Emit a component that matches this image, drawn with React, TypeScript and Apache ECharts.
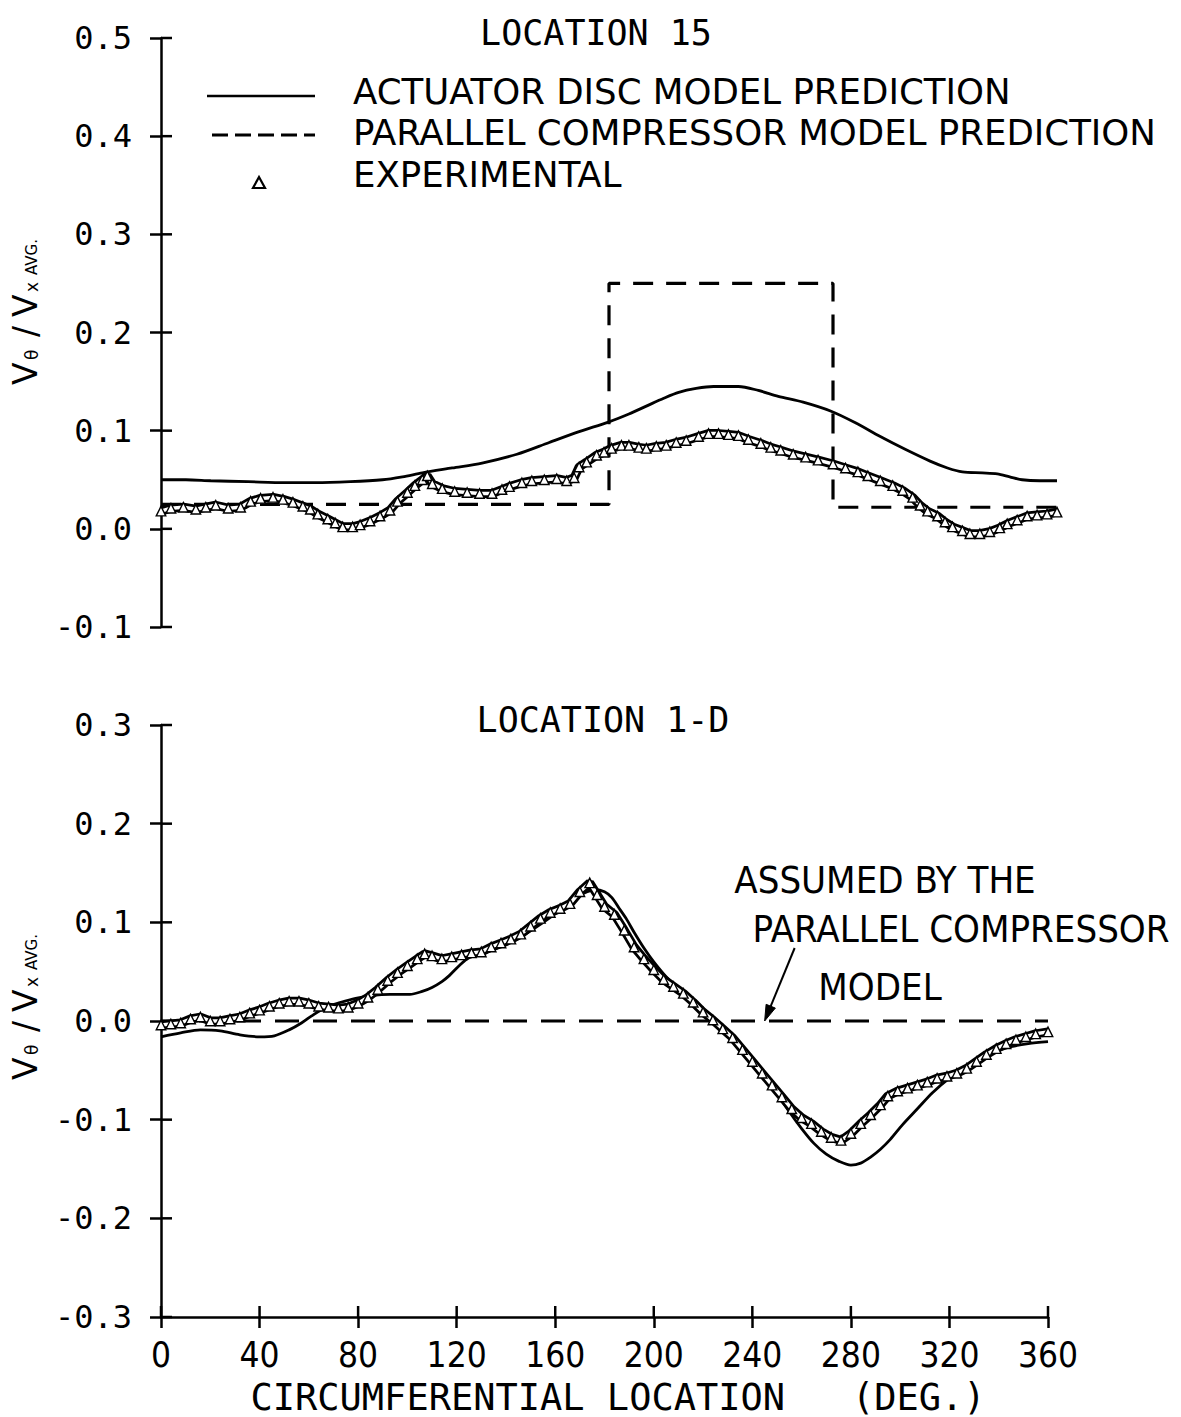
import React, { useEffect, useRef } from "react";
import * as echarts from "echarts";

// ---------- data: Vθ / Vx avg versus circumferential location (deg) ----------

// LOCATION 15 — actuator disc model prediction
const loc15Disc: [number, number][] = [
  [0, 0.050], [10, 0.050], [20, 0.049], [35, 0.048], [50, 0.047], [62, 0.047],
  [76, 0.048], [89, 0.050], [97, 0.053], [105, 0.057], [117, 0.062], [129, 0.067],
  [143, 0.076], [156, 0.088], [168, 0.099], [180, 0.109], [188, 0.117], [195, 0.125],
  [202, 0.133], [208, 0.139], [215, 0.143], [222, 0.145], [232, 0.145], [240, 0.141],
  [248, 0.135], [258, 0.129], [269, 0.120], [279, 0.108], [289, 0.094], [299, 0.081],
  [309, 0.069], [316, 0.062], [322, 0.058], [330, 0.057], [336, 0.056], [341, 0.053],
  [346, 0.050], [353, 0.049], [360, 0.049],
];

// LOCATION 15 — parallel compressor model prediction (square wave)
const loc15Parallel: [number, number][] = [
  [0, 0.025], [180, 0.025], [180, 0.25], [270, 0.25], [270, 0.022], [360, 0.022],
];

// LOCATION 15 — experimental
const loc15Exp: [number, number][] = [
  [0, 0.018], [4, 0.021], [9, 0.022], [14, 0.020], [18, 0.022], [22, 0.024], [27, 0.021],
  [32, 0.022], [36, 0.028], [40, 0.031], [45, 0.032], [49, 0.030], [53, 0.027], [57, 0.023],
  [60, 0.020], [63, 0.015], [67, 0.010], [70, 0.006], [73, 0.002], [77, 0.002], [80, 0.004],
  [84, 0.008], [88, 0.013], [92, 0.019], [95, 0.028], [99, 0.037], [102, 0.044], [105, 0.050],
  [107, 0.054], [109, 0.046], [113, 0.041], [118, 0.038], [123, 0.037], [128, 0.036],
  [133, 0.036], [137, 0.040], [140, 0.043], [145, 0.047], [149, 0.049], [154, 0.050],
  [159, 0.051], [163, 0.049], [166, 0.052], [168, 0.063], [171, 0.068], [175, 0.075],
  [178, 0.078], [181, 0.082], [185, 0.085], [188, 0.085], [192, 0.083], [195, 0.082],
  [199, 0.084], [203, 0.085], [207, 0.088], [211, 0.090], [216, 0.094], [220, 0.097],
  [224, 0.097], [228, 0.096], [232, 0.095], [236, 0.091], [241, 0.087], [245, 0.083],
  [249, 0.080], [254, 0.076], [259, 0.073], [264, 0.070], [270, 0.066], [275, 0.062],
  [280, 0.058], [284, 0.054], [289, 0.049], [294, 0.044], [298, 0.039], [302, 0.032],
  [305, 0.024], [308, 0.018], [312, 0.013], [315, 0.007], [318, 0.002], [322, -0.002],
  [325, -0.005], [329, -0.005], [333, -0.003], [337, 0.001], [340, 0.005], [344, 0.009],
  [348, 0.013], [352, 0.014], [356, 0.015], [360, 0.017],
];

// LOCATION 1-D — actuator disc model prediction
const loc1dDisc: [number, number][] = [
  [0, -0.016], [8, -0.012], [16, -0.009], [24, -0.010], [32, -0.014], [40, -0.016],
  [46, -0.015], [52, -0.009], [57, -0.002], [61, 0.005], [67, 0.014], [73, 0.019],
  [79, 0.023], [86, 0.026], [93, 0.027], [101, 0.027], [106, 0.030], [110, 0.034],
  [114, 0.040], [117, 0.046], [121, 0.056], [125, 0.064], [131, 0.069], [138, 0.075],
  [144, 0.082], [151, 0.093], [158, 0.105], [164, 0.117], [169, 0.126], [173, 0.131],
  [176, 0.133], [180, 0.131], [183, 0.125], [186, 0.114], [189, 0.103], [192, 0.090],
  [196, 0.074], [200, 0.060], [205, 0.045], [210, 0.033], [216, 0.022], [222, 0.008],
  [228, -0.006], [234, -0.021], [239, -0.036], [245, -0.055], [250, -0.073], [255, -0.092],
  [260, -0.109], [265, -0.124], [270, -0.135], [275, -0.142], [280, -0.146], [284, -0.144],
  [288, -0.138], [292, -0.130], [296, -0.120], [301, -0.105], [307, -0.089], [313, -0.073],
  [320, -0.058], [327, -0.046], [334, -0.036], [340, -0.030], [345, -0.026], [352, -0.023],
  [360, -0.021],
];

// LOCATION 1-D — level assumed by the parallel compressor model
const loc1dParallel: [number, number][] = [[0, 0.0], [360, 0.0]];

// LOCATION 1-D — experimental
const loc1dExp: [number, number][] = [
  [0, -0.004], [4, -0.003], [8, -0.002], [12, 0.002], [16, 0.004], [20, 0.000], [24, 0.000],
  [28, 0.002], [32, 0.004], [36, 0.008], [40, 0.011], [44, 0.015], [48, 0.018], [52, 0.020],
  [56, 0.020], [60, 0.018], [64, 0.015], [68, 0.014], [72, 0.013], [76, 0.014], [80, 0.018],
  [84, 0.024], [88, 0.032], [92, 0.041], [96, 0.049], [100, 0.056], [104, 0.063], [107, 0.068],
  [110, 0.066], [114, 0.063], [118, 0.065], [122, 0.067], [126, 0.069], [130, 0.070],
  [134, 0.075], [138, 0.079], [142, 0.083], [146, 0.088], [150, 0.096], [154, 0.104],
  [158, 0.110], [162, 0.114], [166, 0.119], [170, 0.131], [174, 0.140], [177, 0.128],
  [180, 0.116], [184, 0.108], [188, 0.092], [192, 0.075], [196, 0.063], [200, 0.052],
  [204, 0.042], [208, 0.035], [212, 0.028], [216, 0.019], [220, 0.009], [224, 0.001],
  [228, -0.008], [232, -0.017], [236, -0.029], [240, -0.041], [244, -0.053], [248, -0.065],
  [252, -0.077], [256, -0.089], [260, -0.098], [264, -0.104], [268, -0.112], [272, -0.118],
  [276, -0.121], [280, -0.114], [284, -0.104], [288, -0.095], [292, -0.085], [295, -0.076],
  [299, -0.071], [303, -0.068], [307, -0.065], [311, -0.062], [315, -0.058], [319, -0.056],
  [323, -0.053], [327, -0.048], [331, -0.041], [335, -0.034], [339, -0.028], [343, -0.023],
  [347, -0.019], [351, -0.016], [355, -0.013], [360, -0.011],
];

// axes and their tick values
const xRange = [0, 360];
const xStep = 40;
const yStep = 0.1;
const loc15YRange = [-0.1, 0.5];
const loc1dYRange = [-0.3, 0.3];
const xTicks = [0, 40, 80, 120, 160, 200, 240, 280, 320, 360];
const loc15YTicks = [-0.1, 0.0, 0.1, 0.2, 0.3, 0.4, 0.5];
const loc1dYTicks = [-0.3, -0.2, -0.1, 0.0, 0.1, 0.2, 0.3];

// texts
const panelTitles = ["LOCATION 15", "LOCATION 1-D"];
const legendLabels = [
  "ACTUATOR DISC MODEL PREDICTION",
  "PARALLEL COMPRESSOR MODEL PREDICTION",
  "EXPERIMENTAL",
];
const noteLines = ["ASSUMED BY THE", "PARALLEL COMPRESSOR", "MODEL"];
const noteTarget: [number, number] = [245, 0.0];
const xTitle = "CIRCUMFERENTIAL LOCATION   (DEG.)";

// ---------- styling ----------
const INK = "#000";
const MONO = '"DejaVu Sans Mono", monospace';
const NARROW = '"Liberation Sans Narrow", "DejaVu Sans Condensed", "Liberation Sans", sans-serif';
const SANS = '"DejaVu Sans", sans-serif';
const W = 1181;
const H = 1417;
const TICK = 11;

const fmtY = (v: number) => (Math.abs(v) < 1e-9 ? "0.0" : v.toFixed(1));

function yAxis(gridIndex: number, range: number[]) {
  return {
    type: "value",
    gridIndex,
    min: range[0],
    max: range[1],
    interval: yStep,
    position: "left",
    splitLine: { show: false },
    axisLine: { show: true, onZero: false, lineStyle: { color: INK, width: 2.5 } },
    axisTick: { show: true, length: TICK, lineStyle: { color: INK, width: 2.5 } },
    axisLabel: { show: true, formatter: fmtY, color: INK, fontFamily: MONO, fontSize: 32, margin: 29 },
  };
}

// inner half of each tick, so the ticks cross the axis line
function innerTicks(xi: number, yi: number, data: number[][], dir: "x" | "y") {
  return {
    type: "custom",
    xAxisIndex: xi,
    yAxisIndex: yi,
    silent: true,
    clip: false,
    data,
    encode: { x: 0, y: 1 },
    renderItem: (_params: any, api: any) => {
      const p = api.coord([api.value(0), api.value(1)]);
      const shape =
        dir === "y"
          ? { x1: p[0], y1: p[1], x2: p[0] + TICK, y2: p[1] }
          : { x1: p[0], y1: p[1], x2: p[0], y2: p[1] - TICK };
      return { type: "line", shape, style: { stroke: INK, lineWidth: 2.5 } };
    },
  };
}

function seriesSet(xi: number, yi: number, disc: [number, number][], par: [number, number][], exp: [number, number][], dash: number[]) {
  return [
    {
      name: legendLabels[0],
      type: "line",
      xAxisIndex: xi,
      yAxisIndex: yi,
      data: disc,
      smooth: 0.3,
      symbol: "none",
      lineStyle: { color: INK, width: 2.8 },
    },
    {
      name: legendLabels[1],
      type: "line",
      xAxisIndex: xi,
      yAxisIndex: yi,
      data: par,
      symbol: "none",
      lineStyle: { color: INK, width: 3.2, type: dash },
    },
    {
      name: legendLabels[2] + " band",
      type: "line",
      xAxisIndex: xi,
      yAxisIndex: yi,
      data: exp,
      symbol: "none",
      lineStyle: { color: INK, width: 9 },
    },
    {
      name: legendLabels[2],
      type: "line",
      xAxisIndex: xi,
      yAxisIndex: yi,
      data: exp,
      symbol: "triangle",
      symbolSize: 9.5,
      showAllSymbol: true,
      lineStyle: { color: "#fff", width: 3.5 },
      itemStyle: { color: "#fff", borderColor: INK, borderWidth: 1.4 },
    },
  ];
}

function buildOption() {
  return {
    animation: false,
    backgroundColor: "#fff",
    grid: [
      { left: 161, top: 38, width: 896, height: 589 },
      { left: 161, top: 725, width: 887, height: 592 },
    ],
    xAxis: [
      { type: "value", gridIndex: 0, min: xRange[0], max: xRange[1], show: false },
      {
        type: "value",
        gridIndex: 1,
        min: xRange[0],
        max: xRange[1],
        interval: xStep,
        position: "bottom",
        splitLine: { show: false },
        axisLine: { show: true, onZero: false, lineStyle: { color: INK, width: 2.5 } },
        axisTick: { show: true, length: TICK, lineStyle: { color: INK, width: 2.5 } },
        axisLabel: { color: INK, fontFamily: NARROW, fontSize: 35, margin: 20 },
      },
    ],
    yAxis: [yAxis(0, loc15YRange), yAxis(1, loc1dYRange)],
    series: [
      ...seriesSet(0, 0, loc15Disc, loc15Parallel, loc15Exp, [20, 13]),
      ...seriesSet(1, 1, loc1dDisc, loc1dParallel, loc1dExp, [24, 14]),
      innerTicks(0, 0, loc15YTicks.map((v) => [xRange[0], v]), "y"),
      innerTicks(1, 1, loc1dYTicks.map((v) => [xRange[0], v]), "y"),
      innerTicks(1, 1, xTicks.map((v) => [v, loc1dYRange[0]]), "x"),
    ],
  };
}

// rotated axis title "Vθ / Vx AVG." with subscripts; starts at (x, y) and reads upward
function yTitle(x: number, y: number) {
  const big = { fontFamily: SANS, fontSize: 33, fill: INK, verticalAlign: "middle" as const, align: "left" as const };
  const sub = { fontFamily: SANS, fontSize: 17, fill: INK, verticalAlign: "middle" as const, align: "left" as const };
  return {
    type: "group",
    x,
    y,
    rotation: Math.PI / 2,
    silent: true,
    children: [
      { type: "text", x: 0, y: 0, style: { ...big, text: "V" } },
      { type: "text", x: 25, y: 7, style: { ...sub, text: "θ" } },
      { type: "text", x: 48, y: 0, style: { ...big, text: "/" } },
      { type: "text", x: 68, y: 0, style: { ...big, text: "V" } },
      { type: "text", x: 93, y: 7, style: { ...sub, text: "x" } },
      { type: "text", x: 110, y: 7, style: { ...sub, fontSize: 15, text: "AVG." } },
    ],
  };
}

function buildGraphic(tip: number[]) {
  // legend lettering: condensed face, widened a little so each row keeps its length
  const legendText = { fontFamily: NARROW, fontSize: 35, lineHeight: 35, fill: INK, verticalAlign: "middle" as const, align: "left" as const };
  const noteText = { fontFamily: NARROW, fontSize: 38, lineHeight: 40, fill: INK, verticalAlign: "middle" as const, align: "center" as const };
  const titleText = { fontFamily: MONO, fontSize: 35, fill: INK, verticalAlign: "middle" as const, align: "center" as const };
  const legendRow = (y: number, text: string) => ({
    type: "text",
    x: 353,
    y,
    scaleX: 1.13,
    style: { ...legendText, text },
  });

  // arrow from the note down to the zero line
  const tail = [tip[0] + 30, tip[1] - 73];
  const dx = tip[0] - tail[0];
  const dy = tip[1] - tail[1];
  const len = Math.hypot(dx, dy);
  const ux = dx / len;
  const uy = dy / len;
  const bx = tip[0] - 16 * ux;
  const by = tip[1] - 16 * uy;
  const head = [
    [tip[0], tip[1]],
    [bx - 5 * uy, by + 5 * ux],
    [bx + 5 * uy, by - 5 * ux],
  ];

  return [
    { type: "text", x: 596, y: 33, style: { ...titleText, text: panelTitles[0] } },
    { type: "text", x: 603, y: 720, style: { ...titleText, text: panelTitles[1] } },

    // legend
    { type: "line", shape: { x1: 207, y1: 96, x2: 315, y2: 96 }, style: { stroke: INK, lineWidth: 2.5 } },
    { type: "line", shape: { x1: 212, y1: 135, x2: 315, y2: 135 }, style: { stroke: INK, lineWidth: 3, lineDash: [16, 7] } },
    {
      type: "polygon",
      shape: { points: [[259, 177], [253, 188], [265, 188]] },
      style: { fill: "#fff", stroke: INK, lineWidth: 2.2 },
    },
    legendRow(92, legendLabels[0]),
    legendRow(133, legendLabels[1]),
    legendRow(175, legendLabels[2]),

    // note on the lower panel
    { type: "text", x: 885, y: 880, style: { ...noteText, text: noteLines[0] } },
    { type: "text", x: 961, y: 929, style: { ...noteText, text: noteLines[1] } },
    { type: "text", x: 880, y: 987, style: { ...noteText, text: noteLines[2] } },
    { type: "line", shape: { x1: tail[0], y1: tail[1], x2: bx, y2: by }, style: { stroke: INK, lineWidth: 2 } },
    { type: "polygon", shape: { points: head }, style: { fill: INK, stroke: INK, lineWidth: 1 } },

    // axis titles
    yTitle(25, 385),
    yTitle(25, 1080),
    {
      type: "text",
      x: 618,
      y: 1397,
      style: { fontFamily: MONO, fontSize: 37, fill: INK, verticalAlign: "middle", align: "center", text: xTitle },
    },
  ];
}

export default function App() {
  const ref = useRef<HTMLDivElement>(null);

  useEffect(() => {
    const el = ref.current;
    if (!el) return;
    const chart = echarts.init(el, null, { renderer: "svg" });
    chart.setOption(buildOption() as any);
    const tip = chart.convertToPixel({ xAxisIndex: 1, yAxisIndex: 1 }, noteTarget) as number[];
    chart.setOption({ graphic: buildGraphic(tip) } as any);
    return () => chart.dispose();
  }, []);

  return (
    <div
      ref={ref}
      style={{ position: "absolute", left: 0, top: 0, width: W, height: H, background: "#fff" }}
    />
  );
}
